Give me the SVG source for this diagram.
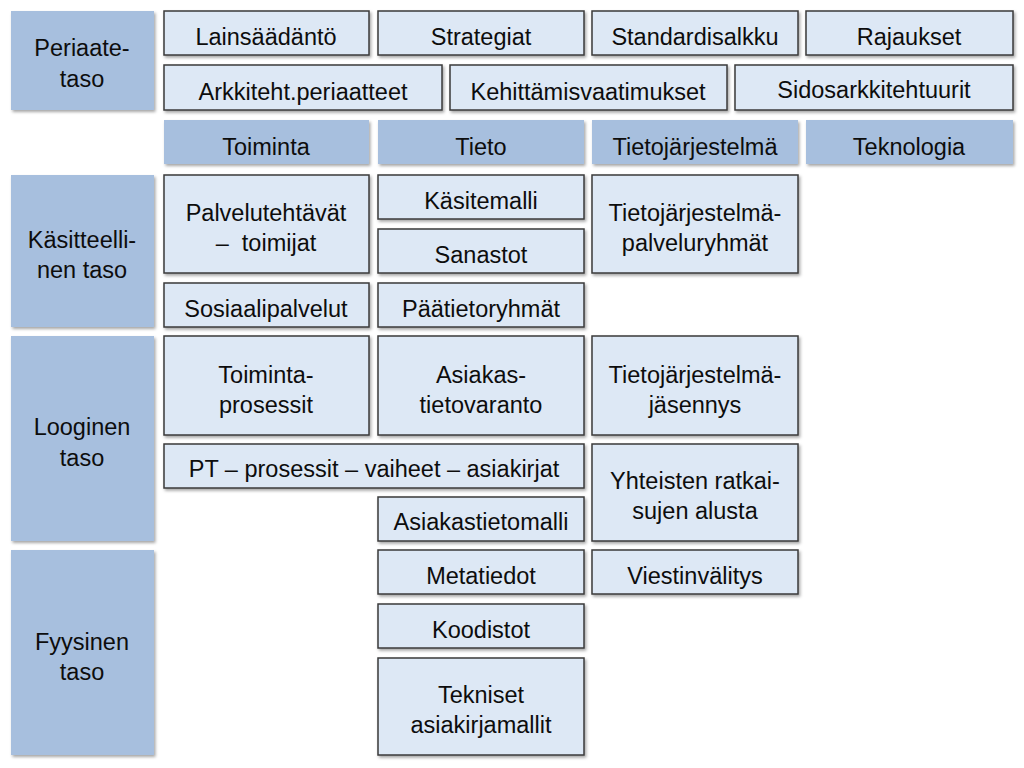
<svg xmlns="http://www.w3.org/2000/svg" width="1024" height="768" viewBox="0 0 1024 768">
<defs>
<filter id="sh" x="-10%" y="-10%" width="120%" height="130%">
<feDropShadow dx="1.5" dy="2" stdDeviation="1.5" flood-color="#000" flood-opacity="0.35"/>
</filter>
<style>
.b{fill:#dde8f5;stroke:#3a3a3a;stroke-width:1.5;filter:url(#sh)}
.h{fill:#a7bfde;filter:url(#sh)}
text{font-family:"Liberation Sans",Arial,sans-serif;font-size:23.5px;fill:#0d0d0d;text-anchor:middle;dominant-baseline:central;white-space:pre;transform:translateY(1.5px)}
</style>
</defs>
<rect width="1024" height="768" fill="#fff"/>
<g id="layers">
<g id="periaatetaso"><rect class="h" x="11" y="11" width="143" height="99"/><text x="82" y="46">Periaate-</text><text x="82" y="77">taso</text></g>
<g id="kasitteellinen"><rect class="h" x="11" y="175" width="143" height="152"/><text x="82" y="238">Käsitteelli-</text><text x="82" y="268">nen taso</text></g>
<g id="looginen"><rect class="h" x="11" y="336" width="143" height="205"/><text x="82" y="425">Looginen</text><text x="82" y="456">taso</text></g>
<g id="fyysinen"><rect class="h" x="11" y="550" width="143" height="205"/><text x="82" y="640">Fyysinen</text><text x="82" y="670">taso</text></g>
</g>
<g id="headers">
<g id="toiminta"><rect class="h" x="164" y="120" width="205" height="44"/><text x="266" y="145">Toiminta</text></g>
<g id="tieto"><rect class="h" x="378" y="120" width="206" height="44"/><text x="481" y="145">Tieto</text></g>
<g id="tietojarjestelma"><rect class="h" x="592" y="120" width="206" height="44"/><text x="695" y="145">Tietojärjestelmä</text></g>
<g id="teknologia"><rect class="h" x="806" y="120" width="207" height="44"/><text x="909" y="145">Teknologia</text></g>
</g>
<g id="nodes">
<g id="lainsaadanto"><rect class="b" x="164" y="11" width="205" height="44"/><text x="266" y="35">Lainsäädäntö</text></g>
<g id="strategiat"><rect class="b" x="378" y="11" width="206" height="44"/><text x="481" y="35">Strategiat</text></g>
<g id="standardisalkku"><rect class="b" x="592" y="11" width="206" height="44"/><text x="695" y="35">Standardisalkku</text></g>
<g id="rajaukset"><rect class="b" x="806" y="11" width="207" height="44"/><text x="909" y="35">Rajaukset</text></g>
<g id="arkkiteht"><rect class="b" x="164" y="65" width="278" height="45"/><text x="303" y="90">Arkkiteht.periaatteet</text></g>
<g id="kehittamis"><rect class="b" x="450" y="65" width="277" height="45"/><text x="588" y="90">Kehittämisvaatimukset</text></g>
<g id="sidos"><rect class="b" x="735" y="65" width="278" height="45"/><text x="874" y="88">Sidosarkkitehtuurit</text></g>
<g id="palvelutehtavat"><rect class="b" x="164" y="175" width="205" height="98"/><text x="266" y="211">Palvelutehtävät</text><text x="266" y="241">–  toimijat</text></g>
<g id="kasitemalli"><rect class="b" x="378" y="175" width="206" height="44"/><text x="481" y="199">Käsitemalli</text></g>
<g id="sanastot"><rect class="b" x="378" y="229" width="206" height="44"/><text x="481" y="253">Sanastot</text></g>
<g id="tjpalveluryhmat"><rect class="b" x="592" y="175" width="206" height="98"/><text x="695" y="211">Tietojärjestelmä-</text><text x="695" y="241">palveluryhmät</text></g>
<g id="sosiaalipalvelut"><rect class="b" x="164" y="283" width="205" height="44"/><text x="266" y="307">Sosiaalipalvelut</text></g>
<g id="paatietoryhmat"><rect class="b" x="378" y="283" width="206" height="44"/><text x="481" y="307">Päätietoryhmät</text></g>
<g id="toimintaprosessit"><rect class="b" x="164" y="336" width="205" height="99"/><text x="266" y="373">Toiminta-</text><text x="266" y="403">prosessit</text></g>
<g id="asiakastietovaranto"><rect class="b" x="378" y="336" width="206" height="99"/><text x="481" y="373">Asiakas-</text><text x="481" y="403">tietovaranto</text></g>
<g id="tjjasennys"><rect class="b" x="592" y="336" width="206" height="99"/><text x="695" y="373">Tietojärjestelmä-</text><text x="695" y="403">jäsennys</text></g>
<g id="pt"><rect class="b" x="164" y="444" width="420" height="44"/><text x="374" y="467">PT – prosessit – vaiheet – asiakirjat</text></g>
<g id="yhteisten"><rect class="b" x="592" y="444" width="206" height="97"/><text x="695" y="479">Yhteisten ratkai-</text><text x="695" y="509">sujen alusta</text></g>
<g id="asiakastietomalli"><rect class="b" x="378" y="497" width="206" height="44"/><text x="481" y="520">Asiakastietomalli</text></g>
<g id="metatiedot"><rect class="b" x="378" y="550" width="206" height="44"/><text x="481" y="574">Metatiedot</text></g>
<g id="viestinvalitys"><rect class="b" x="592" y="550" width="206" height="44"/><text x="695" y="574">Viestinvälitys</text></g>
<g id="koodistot"><rect class="b" x="378" y="604" width="206" height="44"/><text x="481" y="628">Koodistot</text></g>
<g id="tekniset"><rect class="b" x="378" y="658" width="206" height="97"/><text x="481" y="693">Tekniset</text><text x="481" y="723">asiakirjamallit</text></g>
</g>
<g id="connectors"/>
</svg>
